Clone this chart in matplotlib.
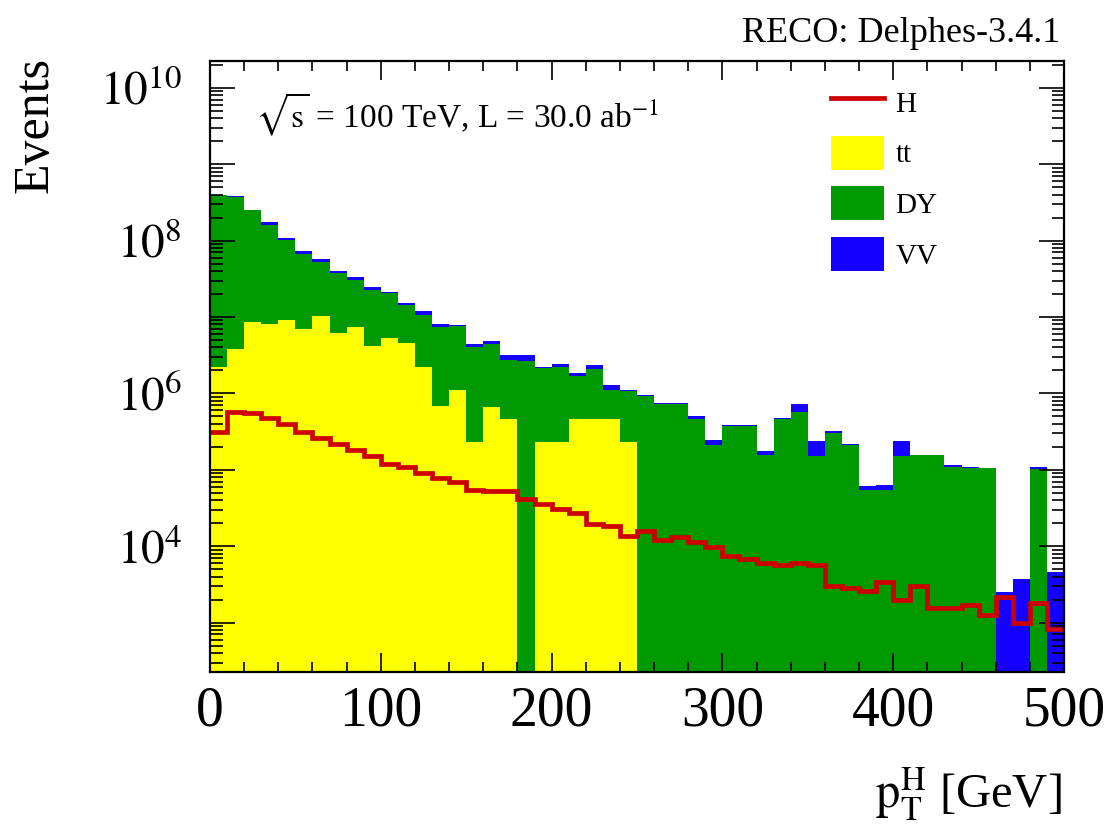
import matplotlib
matplotlib.use("Agg")
import matplotlib.pyplot as plt
import numpy as np
from matplotlib.ticker import LogLocator, FixedLocator, FuncFormatter, NullFormatter
from matplotlib.lines import Line2D
from matplotlib.patches import Patch

plt.rcParams['font.family'] = ['Liberation Serif', 'DejaVu Serif']
plt.rcParams['mathtext.fontset'] = 'stix'

# pT(H) bins, 10 GeV wide, 0-500 GeV
bin_low = 0
bin_high = 500
n_bins = 50

# events per bin
tt = [2.2e6, 3.8e6, 8.7e6, 8.1e6, 9.2e6, 7.0e6, 1.02e7, 6.1e6, 7.3e6, 4.2e6,
      5.3e6, 4.6e6, 2.2e6, 6.8e5, 1.1e6, 2.3e5, 6.6e5, 4.6e5, 0, 2.3e5,
      2.3e5, 4.6e5, 4.6e5, 4.6e5, 2.3e5, 0, 0, 0, 0, 0,
      0, 0, 0, 0, 0, 0, 0, 0, 0, 0,
      0, 0, 0, 0, 0, 0, 0, 0, 0, 0]

dy = [3.87e8, 3.72e8, 2.39e8, 1.52e8, 9.1e7, 6.06e7, 4.29e7, 3.17e7, 2.33e7, 1.80e7,
      1.50e7, 9.8e6, 8.4e6, 6.7e6, 6.6e6, 3.8e6, 3.8e6, 2.3e6, 2.67e6, 1.91e6,
      2.0e6, 1.23e6, 1.65e6, 6.6e5, 8.5e5, 9.2e5, 7.35e5, 7.35e5, 4.57e5, 2.14e5,
      3.78e5, 3.78e5, 1.55e5, 4.62e5, 5.77e5, 1.53e5, 3.03e5, 2.11e5, 5.4e4, 5.4e4,
      1.53e5, 1.55e5, 1.55e5, 1.09e5, 1.05e5, 1.05e5, 0, 0, 1.02e5, 0]

vv = [6e6, 8e6, 6e6, 1.4e7, 9e6, 5.7e6, 5.1e6, 2.4e6, 2.6e6, 2.1e6,
      8e5, 8e5, 1.5e6, 6e5, 2.4e5, 3.9e5, 3.7e5, 4.3e5, 5.1e5, 7e4,
      1.9e5, 1.4e5, 2.1e5, 1.6e5, 3e4, 2.3e4, 1.7e4, 1.7e4, 4.4e4, 2.9e4,
      8e3, 8e3, 2.2e4, 1.4e4, 1.49e5, 8.8e4, 1.6e4, 7e3, 7e3, 9.4e3,
      8.8e4, 3e3, 3e3, 7e3, 3e3, 1e3, 2.5e3, 3.7e3, 7e3, 4.6e3]

higgs = [3.1e5, 5.65e5, 5.5e5, 4.8e5, 4.0e5, 3.16e5, 2.6e5, 2.2e5, 1.82e5, 1.5e5,
         1.19e5, 1.09e5, 9.1e4, 7.9e4, 6.95e4, 5.5e4, 5.25e4, 5.2e4, 4.1e4, 3.6e4,
         3.1e4, 2.74e4, 1.98e4, 1.86e4, 1.38e4, 1.59e4, 1.2e4, 1.3e4, 1.13e4, 9.9e3,
         7.55e3, 6.84e3, 6.07e3, 5.71e3, 6.07e3, 5.71e3, 3.0e3, 2.82e3, 2.61e3, 3.45e3,
         1.97e3, 3.0e3, 1.57e3, 1.57e3, 1.71e3, 1.25e3, 2.15e3, 1.0e3, 1.82e3, 8.3e2]

labels = ['H', 'tt', 'DY', 'VV']
COLORS = {'H': '#cc0000', 'tt': '#ffff00', 'DY': '#009900', 'VV': '#1400ff'}


def draw_stack(ax, edges):
    tt_arr = np.array(tt)
    dy_arr = np.array(dy)
    vv_arr = np.array(vv)
    # ROOT-like stack: draw the totals, biggest first
    layers = [('VV', tt_arr + dy_arr + vv_arr), ('DY', tt_arr + dy_arr), ('tt', tt_arr)]
    for name, vals in layers:
        ax.stairs(vals, edges, baseline=1.0, fill=True, color=COLORS[name], linewidth=0)
    ax.stairs(higgs, edges, baseline=None, color=COLORS['H'], linewidth=3.4, zorder=5)


def main():
    fig = plt.figure(figsize=(11.04, 8.25), dpi=100)
    ax = fig.add_axes([0.1902, 0.1855, 0.7736, 0.7406])
    edges = np.linspace(bin_low, bin_high, n_bins + 1)
    draw_stack(ax, edges)

    ax.set_yscale('log')
    ax.set_xlim(bin_low, bin_high)
    ax.set_ylim(226, 2.24e10)

    ax.xaxis.set_major_locator(FixedLocator([0, 100, 200, 300, 400, 500]))
    ax.xaxis.set_minor_locator(FixedLocator(np.arange(0, 501, 20)))
    ax.yaxis.set_major_locator(LogLocator(base=10, numticks=20))
    ax.yaxis.set_minor_locator(LogLocator(base=10, subs=np.arange(2, 10), numticks=100))
    ax.yaxis.set_major_formatter(FuncFormatter(
        lambda v, pos: r'$10^{%d}$' % round(np.log10(v)) if round(np.log10(v)) % 2 == 0 else ''))
    ax.yaxis.set_minor_formatter(NullFormatter())

    ax.tick_params(which='both', direction='in', top=True, right=True, width=1.2, colors='black')
    ax.tick_params(axis='x', which='major', length=13.5, labelsize=40, pad=10)
    ax.tick_params(axis='x', which='minor', length=7)
    ax.tick_params(axis='y', which='major', length=18, labelsize=34, pad=20)
    ax.tick_params(axis='y', which='minor', length=9)
    for spine in ax.spines.values():
        spine.set_linewidth(1.6)
        spine.set_zorder(10)

    fig.text(0.032, 1 - 57 / 825, 'Events', rotation=90, ha='center', va='top', fontsize=36)
    fig.text(1062 / 1104, 1 - 808 / 825, r'$\mathrm{p}_{\mathrm{T}}^{\mathrm{H}}$ [GeV]',
             ha='right', va='baseline', fontsize=35)
    fig.text(1060 / 1104, 1 - 42 / 825, 'RECO: Delphes-3.4.1', ha='right', va='baseline', fontsize=26)
    fig.text(255 / 1104, 1 - 127 / 825, r'$\sqrt{\mathrm{s}}$ = 100 TeV, L = 30.0 ab$^{-1}$',
             ha='left', va='baseline', fontsize=24)

    handles = [Line2D([], [], color=COLORS['H'], linewidth=3.4)]
    handles += [Patch(facecolor=COLORS[name], linewidth=0) for name in labels[1:]]
    fig.legend(
        handles=handles,
        labels=labels,
        loc='upper left',
        bbox_to_anchor=(831 / 1104, 1 - 85 / 825),
        frameon=False,
        fontsize=21,
        borderpad=0,
        borderaxespad=0,
        handlelength=1.83,
        handleheight=1.43,
        handletextpad=0.38,
        labelspacing=0.56,
    )

    fig.savefig('out.png', dpi=100)
    plt.close(fig)


main()
